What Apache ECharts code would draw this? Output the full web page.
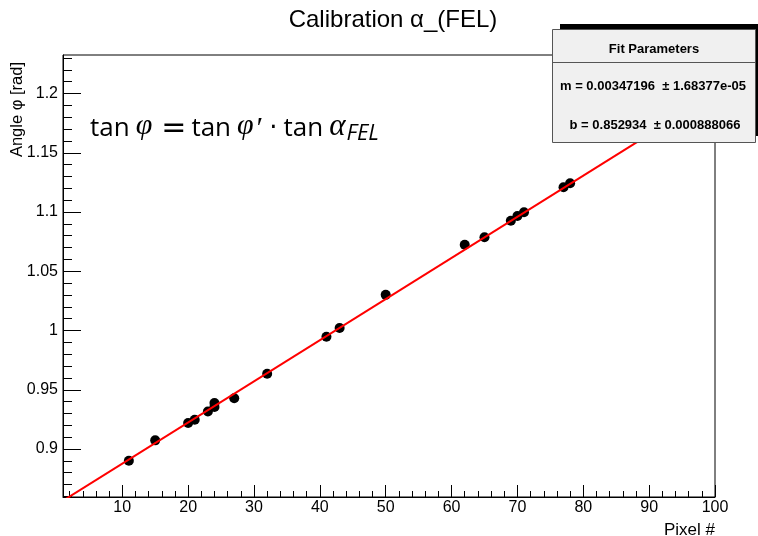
<!DOCTYPE html>
<html>
<head>
<meta charset="utf-8">
<script src="https://cdn.jsdelivr.net/npm/echarts@6/dist/echarts.min.js"></script>
<style>
  html, body { margin: 0; padding: 0; background: #fff; }
  #chart { width: 758px; height: 536px; }
</style>
</head>
<body>
<div id="chart"></div>
<script>
// measured points (pixel #, angle in rad)
var pixels = [11, 15, 20, 21, 23, 24, 24, 27, 32, 41, 43, 50, 62, 65, 69, 70, 71, 77, 78]
var angles = [0.8901, 0.9073, 0.9219, 0.9247, 0.9317, 0.9388, 0.9354, 0.9428, 0.9635, 0.9948, 1.0021,
  1.0301, 1.0723, 1.0787, 1.0927, 1.0967, 1.0998, 1.1209, 1.1243]

// fit result  y = m*x + b
var fitM = 0.00347196
var fitMErr = '1.68377e-05'
var fitB = 0.852934
var fitBErr = '0.000888066'

var xRange = [1, 100]
var yRange = [0.8595, 1.2325]
var xMajor = [10, 20, 30, 40, 50, 60, 70, 80, 90, 100]
var yMajor = [0.9, 0.95, 1, 1.05, 1.1, 1.15, 1.2]

var xMinor = []
for (var i = 2; i <= 100; i += 2) xMinor.push(i)
var yMinor = []
for (var k = 86; k <= 123; k++) yMinor.push(k / 100)

var font = "'Liberation Sans', Arial, sans-serif"

var chart = echarts.init(document.getElementById('chart'))

var points = pixels.map(function (p, i) { return [p, angles[i]] })
var fitLine = xRange.map(function (x) { return [x, fitM * x + fitB] })

chart.setOption({
  animation: false,
  backgroundColor: '#fff',
  grid: {
    left: 63,
    right: 43,
    top: 55,
    bottom: 39,
    show: true,
    borderColor: '#000',
    borderWidth: 1,
    containLabel: false,
    outerBoundsMode: 'none'
  },
  xAxis: [
    {
      type: 'value',
      min: xRange[0],
      max: xRange[1],
      axisLine: { onZero: false, lineStyle: { color: '#000', width: 1 } },
      axisTick: { inside: true, length: 12, customValues: xMajor, lineStyle: { color: '#000' } },
      axisLabel: {
        customValues: xMajor,
        color: '#000',
        fontFamily: font,
        fontSize: 16,
        margin: 3
      },
      splitLine: { show: false }
    },
    {
      type: 'value',
      min: xRange[0],
      max: xRange[1],
      position: 'bottom',
      axisLine: { show: false },
      axisTick: { inside: true, length: 6, customValues: xMinor, lineStyle: { color: '#000' } },
      axisLabel: { show: false },
      splitLine: { show: false }
    }
  ],
  yAxis: [
    {
      type: 'value',
      min: yRange[0],
      max: yRange[1],
      axisLine: { show: true, onZero: false, lineStyle: { color: '#000', width: 1 } },
      axisTick: { show: true, inside: true, length: 18, customValues: yMajor, lineStyle: { color: '#000' } },
      axisLabel: {
        customValues: yMajor,
        color: '#000',
        fontFamily: font,
        fontSize: 16,
        margin: 5,
        formatter: function (v) { return String(Math.round(v * 100) / 100) }
      },
      splitLine: { show: false }
    },
    {
      type: 'value',
      min: yRange[0],
      max: yRange[1],
      position: 'left',
      axisLine: { show: false },
      axisTick: { show: true, inside: true, length: 9, customValues: yMinor, lineStyle: { color: '#000' } },
      axisLabel: { show: false },
      splitLine: { show: false }
    }
  ],
  series: [
    {
      type: 'scatter',
      data: points,
      symbol: 'circle',
      symbolSize: 10,
      itemStyle: { color: '#000', opacity: 1 },
      z: 2
    },
    {
      type: 'line',
      data: fitLine,
      showSymbol: false,
      lineStyle: { color: '#ff0000', width: 2 },
      z: 3
    }
  ],
  graphic: [
    {
      type: 'text',
      x: 393,
      y: 20,
      style: { text: 'Calibration α_(FEL)', font: '24px ' + font, fill: '#000', align: 'center', verticalAlign: 'middle' }
    },
    {
      type: 'text',
      x: 17,
      y: 62,
      rotation: Math.PI / 2,
      style: {
        text: 'Angle φ [rad]',
        font: '16.5px ' + font,
        fill: '#000',
        align: 'right',
        verticalAlign: 'middle'
      }
    },
    {
      type: 'text',
      x: 715,
      y: 530,
      style: {
        text: 'Pixel #',
        font: '17px ' + font,
        fill: '#000',
        align: 'right',
        verticalAlign: 'middle'
      }
    },
    {
      type: 'text',
      x: 90,
      y: 129,
      style: {
        text: '{n|tan}{i|φ}{e|=}{n|tan}{i|φ}{p|′}{d|·}{n|tan}{a|α}{s|FEL}',
        verticalAlign: 'middle',
        rich: {
          n: { font: "26px 'Open Sans', 'DejaVu Sans'", fill: '#000' },
          e: { font: "30px 'DejaVu Sans'", fill: '#000', padding: [0, 5, 0, 8] },
          d: { font: "26px 'DejaVu Sans'", fill: '#000', padding: [0, 6, 0, 8] },
          p: { font: "italic 30px 'Liberation Serif'", fill: '#000', padding: [0, 0, 0, 0] },
          i: { font: "italic 30px 'Liberation Serif'", fill: '#000', padding: [0, 1, 6, 6] },
          a: { font: "italic 31px 'Liberation Serif'", fill: '#000', padding: [0, 1, 4, 6] },
          s: { font: "italic 22px 'Open Sans', 'DejaVu Sans'", fill: '#000', padding: [10, 0, 0, 0] }
        }
      }
    },
    // fit parameter box
    {
      type: 'rect',
      shape: { x: 560, y: 24, width: 198, height: 112 },
      style: { fill: '#000' },
      z: 20
    },
    {
      type: 'rect',
      shape: { x: 552.5, y: 29.5, width: 203, height: 113 },
      style: { fill: '#f0f0f0', stroke: '#555', lineWidth: 1 },
      z: 21
    },
    {
      type: 'line',
      shape: { x1: 553, y1: 62.5, x2: 756, y2: 62.5 },
      style: { stroke: '#555', lineWidth: 1 },
      z: 22
    },
    {
      type: 'text',
      x: 654,
      y: 49,
      style: { text: 'Fit Parameters', font: 'bold 13px ' + font, fill: '#000', align: 'center', verticalAlign: 'middle' },
      z: 22
    },
    {
      type: 'text',
      x: 653,
      y: 86,
      style: { text: 'm = ' + fitM + '  ± ' + fitMErr, font: 'bold 13px ' + font, fill: '#000', align: 'center', verticalAlign: 'middle' },
      z: 22
    },
    {
      type: 'text',
      x: 655,
      y: 125,
      style: { text: 'b = ' + fitB + '  ± ' + fitBErr, font: 'bold 13px ' + font, fill: '#000', align: 'center', verticalAlign: 'middle' },
      z: 22
    }
  ]
})
</script>
</body>
</html>
